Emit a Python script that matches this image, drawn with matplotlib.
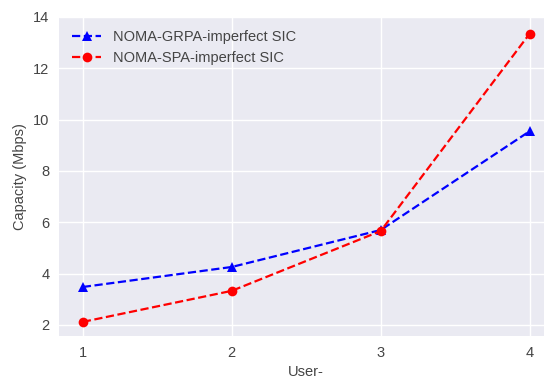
import matplotlib
matplotlib.use("Agg")
import matplotlib.pyplot as plt

plt.style.use('seaborn-v0_8')
plt.rcParams['font.family'] = ['Liberation Sans', 'DejaVu Sans']
plt.rcParams['text.color'] = '#444444'
plt.rcParams['axes.labelcolor'] = '#444444'
plt.rcParams['xtick.color'] = '#444444'
plt.rcParams['ytick.color'] = '#444444'

users = [1, 2, 3, 4]
grpa = [3.48, 4.26, 5.70, 9.55]
spa = [2.12, 3.33, 5.66, 13.35]

fig = plt.figure(figsize=(5.44, 3.79), dpi=100)
ax = fig.add_axes([59/544, 43/379, 493/544, 319/379])
ax.plot(users, grpa, 'b--^', label='NOMA-GRPA-imperfect SIC', markersize=7, linewidth=1.6)
ax.plot(users, spa, 'r--o', label='NOMA-SPA-imperfect SIC', markersize=7, linewidth=1.6)
ax.set_xticks(users)
ax.set_ylim(1.57, 14.0)
ax.set_xlim(0.84, 4.15)
ax.set_xlabel('User-', fontsize=10.5)
ax.set_ylabel('Capacity (Mbps)', fontsize=10.5)
ax.tick_params(labelsize=10.5)
ax.legend(loc='upper left', fontsize=10.5, numpoints=1, labelcolor='#444444')
fig.savefig('out.png', dpi=100)
